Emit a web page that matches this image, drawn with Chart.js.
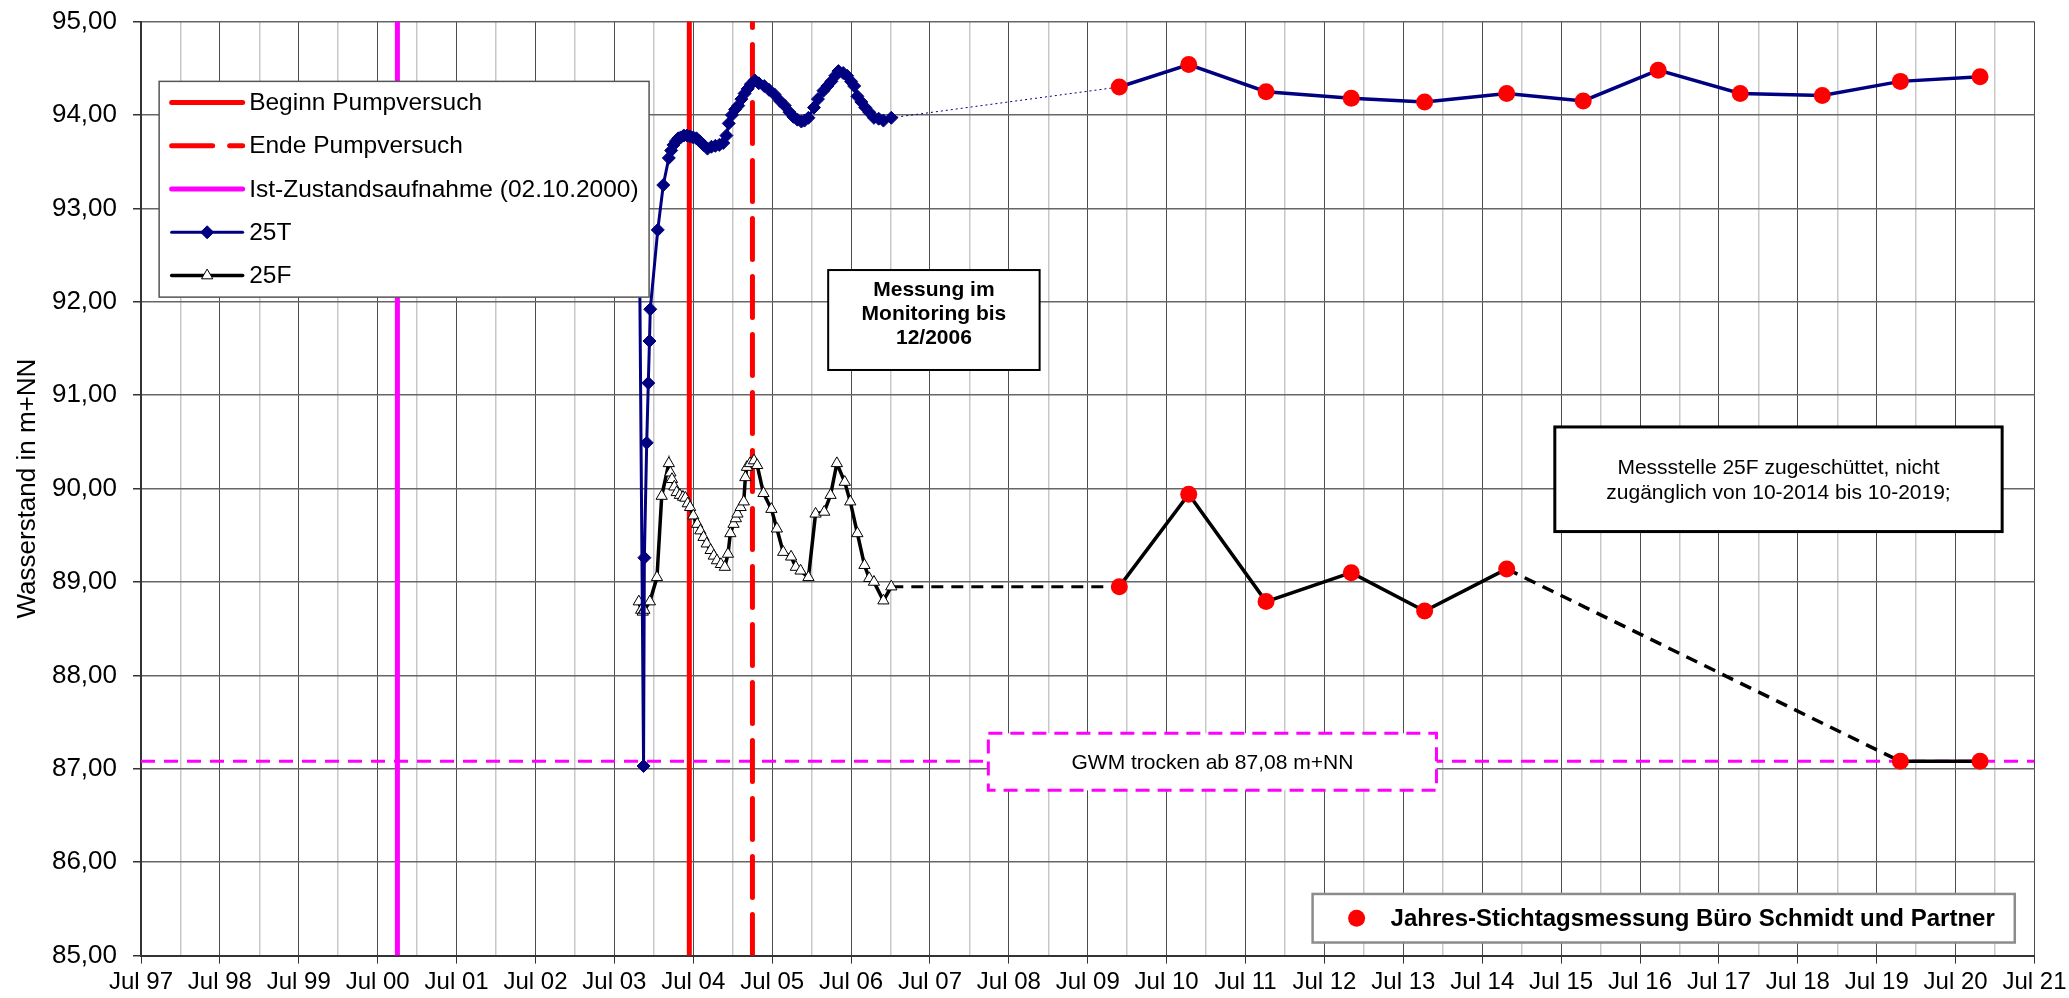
<!DOCTYPE html>
<html>
<head>
<meta charset="utf-8">
<script src="https://cdn.jsdelivr.net/npm/chart.js@4.4.1/dist/chart.umd.min.js"></script>
<style>
  html, body { margin: 0; padding: 0; background: #fff; }
</style>
</head>
<body>
<canvas id="grafico-wasserstand" width="2069" height="998"></canvas>
<script>
// Zeitachse in Dezimaljahren (Jul 97 = 1997.5)
const xTickLabels = ['Jul 97', 'Jul 98', 'Jul 99', 'Jul 00', 'Jul 01', 'Jul 02', 'Jul 03', 'Jul 04',
  'Jul 05', 'Jul 06', 'Jul 07', 'Jul 08', 'Jul 09', 'Jul 10', 'Jul 11', 'Jul 12', 'Jul 13',
  'Jul 14', 'Jul 15', 'Jul 16', 'Jul 17', 'Jul 18', 'Jul 19', 'Jul 20', 'Jul 21'];
const yMin = 85;
const yMax = 95;

const istZustand = 2000.75;        // 02.10.2000
const beginnPumpversuch = 2004.45;
const endePumpversuch = 2005.25;
const trockenNiveau = 87.08;

// Monitoring 25T
const datum25T = [2003.81, 2003.87, 2003.88, 2003.91, 2003.93, 2003.945, 2003.955, 2004.05, 2004.12, 2004.19,
  2004.22, 2004.25, 2004.28, 2004.31, 2004.34, 2004.38, 2004.42, 2004.46, 2004.50, 2004.54,
  2004.58, 2004.63, 2004.68, 2004.73, 2004.78, 2004.83, 2004.88, 2004.92, 2004.95, 2004.99,
  2005.03, 2005.07, 2005.11, 2005.15, 2005.19, 2005.23, 2005.28, 2005.33, 2005.40, 2005.46,
  2005.53, 2005.60, 2005.66, 2005.72, 2005.77, 2005.82, 2005.87, 2005.91, 2005.96, 2006.03,
  2006.08, 2006.15, 2006.20, 2006.25, 2006.30, 2006.34, 2006.40, 2006.45, 2006.50, 2006.54,
  2006.58, 2006.63, 2006.68, 2006.73, 2006.79, 2006.85, 2006.91, 2007.01];
const wert25T = [93.50, 87.03, 89.26, 90.49, 91.13, 91.58, 91.92, 92.77, 93.25, 93.54,
  93.62, 93.68, 93.72, 93.75, 93.76, 93.78, 93.78, 93.77, 93.76, 93.75,
  93.72, 93.68, 93.64, 93.66, 93.67, 93.68, 93.70, 93.78, 93.91, 94.00,
  94.06, 94.10, 94.17, 94.23, 94.28, 94.33, 94.37, 94.34, 94.31, 94.27,
  94.22, 94.15, 94.10, 94.03, 93.98, 93.95, 93.93, 93.94, 93.97, 94.08,
  94.17, 94.26, 94.31, 94.36, 94.42, 94.47, 94.45, 94.42, 94.36, 94.31,
  94.20, 94.14, 94.08, 94.03, 93.97, 93.96, 93.94, 93.97];

// Monitoring 25F
const datum25F = [2003.81, 2003.84, 2003.86, 2003.88, 2003.95, 2004.04, 2004.10, 2004.19, 2004.21, 2004.23,
  2004.26, 2004.29, 2004.33, 2004.37, 2004.40, 2004.43, 2004.46, 2004.50, 2004.55, 2004.59,
  2004.63, 2004.67, 2004.72, 2004.76, 2004.80, 2004.85, 2004.90, 2004.94, 2004.97, 2005.01,
  2005.04, 2005.06, 2005.10, 2005.14, 2005.16, 2005.18, 2005.22, 2005.27, 2005.31, 2005.39,
  2005.49, 2005.56, 2005.64, 2005.74, 2005.80, 2005.86, 2005.96, 2006.05, 2006.16, 2006.24,
  2006.32, 2006.42, 2006.49, 2006.58, 2006.67, 2006.73, 2006.79, 2006.91, 2007.01];
const wert25F = [88.79, 88.70, 88.68, 88.70, 88.79, 89.05, 89.92, 90.27, 90.17, 90.10,
  90.02, 89.96, 89.93, 89.91, 89.90, 89.84, 89.80, 89.71, 89.62, 89.55,
  89.48, 89.41, 89.34, 89.28, 89.23, 89.19, 89.16, 89.30, 89.52, 89.62,
  89.68, 89.73, 89.80, 89.86, 90.12, 90.23, 90.27, 90.30, 90.25, 89.95,
  89.78, 89.57, 89.32, 89.27, 89.16, 89.12, 89.05, 89.73, 89.75, 89.93,
  90.27, 90.07, 89.86, 89.52, 89.18, 89.04, 89.00, 88.80, 88.95];

// Jahres-Stichtagsmessungen
const stichtagDatum = [2009.90, 2010.78, 2011.76, 2012.84, 2013.77, 2014.81, 2015.78, 2016.73, 2017.77, 2018.81, 2019.80, 2020.81];
const stichtag25T = [94.30, 94.54, 94.25, 94.18, 94.14, 94.23, 94.15, 94.48, 94.23, 94.21, 94.36, 94.41];
const stichtag25F = [88.95, 89.94, 88.79, 89.10, 88.69, 89.14, null, null, null, null, 87.08, 87.08];

const FONT = '"Liberation Sans", Arial, sans-serif';
const NAVY = '#000080';
const ROT = '#ff0000';
const MAGENTA = '#ff00ff';

function punkte(xs, ys) {
  return xs.map((x, i) => ({ x: x, y: ys[i] }));
}
function senkrecht(x) {
  return [{ x: x, y: yMin }, { x: x, y: yMax }];
}
function istJul(v) {
  return Math.abs((v % 1) - 0.5) < 1e-6;
}

// Textfelder (in Achsenkoordinaten)
const textFelder = {
  legende: { x0: 1997.73, y0: 94.36, x1: 2003.94, y1: 92.05 },
  messung: { x0: 2006.21, y0: 92.34, x1: 2008.89, y1: 91.27 },
  messstelle: { x0: 2015.42, y0: 90.66, x1: 2021.09, y1: 89.54 },
  gwm: { x0: 2008.24, y0: 87.38, x1: 2013.92, y1: 86.77 },
  stichtag: { x0: 2012.35, y0: 85.66, x1: 2021.25, y1: 85.14 }
};

function feld(chart, b, fill, stroke, width, dash) {
  const xs = chart.scales.x, ys = chart.scales.y;
  const x0 = xs.getPixelForValue(b.x0), x1 = xs.getPixelForValue(b.x1);
  const y0 = ys.getPixelForValue(b.y0), y1 = ys.getPixelForValue(b.y1);
  const ctx = chart.ctx;
  ctx.save();
  ctx.fillStyle = fill;
  ctx.fillRect(x0, y0, x1 - x0, y1 - y0);
  ctx.strokeStyle = stroke;
  ctx.lineWidth = width;
  ctx.setLineDash(dash || []);
  ctx.strokeRect(x0, y0, x1 - x0, y1 - y0);
  ctx.restore();
  return { x0, y0, x1, y1 };
}

const overlayPlugin = {
  id: 'overlays',
  afterDatasetsDraw(chart) {
    const ctx = chart.ctx;
    ctx.save();
    ctx.fillStyle = '#000';
    ctx.textBaseline = 'middle';

    // Messung im Monitoring
    let r = feld(chart, textFelder.messung, '#fff', '#000', 2);
    ctx.font = 'bold 21px ' + FONT;
    ctx.textAlign = 'center';
    ['Messung im', 'Monitoring bis', '12/2006'].forEach((t, i) => {
      ctx.fillText(t, (r.x0 + r.x1) / 2, r.y0 + 20 + i * 24);
    });

    // Messstelle 25F
    r = feld(chart, textFelder.messstelle, '#fff', '#000', 3);
    ctx.font = '21px ' + FONT;
    ['Messstelle 25F zugeschüttet, nicht', 'zugänglich von 10-2014 bis 10-2019;'].forEach((t, i) => {
      ctx.fillText(t, (r.x0 + r.x1) / 2, r.y0 + 41 + i * 25);
    });

    // GWM trocken
    r = feld(chart, textFelder.gwm, '#fff', MAGENTA, 3, [14, 8]);
    ctx.fillText('GWM trocken ab 87,08 m+NN', (r.x0 + r.x1) / 2, (r.y0 + r.y1) / 2 + 1);

    // Legende oben links
    r = feld(chart, textFelder.legende, '#fff', '#555', 1.5);
    ctx.textAlign = 'left';
    ctx.font = '24.5px ' + FONT;
    const eintraege = chart.data.datasets.filter(ds => ds.legende);
    eintraege.forEach((ds, i) => {
      const y = r.y0 + 21 + i * 43.3;
      const xa = r.x0 + 12.5, xb = r.x0 + 83.5;
      ctx.save();
      ctx.strokeStyle = ds.borderColor;
      ctx.lineWidth = ds.borderWidth;
      ctx.lineCap = 'round';
      ctx.setLineDash(ds.borderDash || []);
      ctx.beginPath();
      ctx.moveTo(xa, y);
      ctx.lineTo(xb, y);
      ctx.stroke();
      ctx.restore();
      if (ds.pointRadius > 0) {
        ctx.save();
        ctx.fillStyle = ds.pointBackgroundColor;
        ctx.strokeStyle = ds.pointBorderColor;
        ctx.lineWidth = ds.pointBorderWidth;
        Chart.helpers.drawPoint(ctx, { pointStyle: ds.pointStyle, radius: ds.pointRadius, rotation: 0, borderWidth: ds.pointBorderWidth }, (xa + xb) / 2, y);
        ctx.restore();
      }
      ctx.fillText(ds.label, r.x0 + 90, y + 1);
    });

    // Legende Stichtagsmessung
    r = feld(chart, textFelder.stichtag, '#fff', '#8c8c8c', 2.5);
    const st = chart.data.datasets.find(ds => ds.id === 'stichtag25T');
    const cy = (r.y0 + r.y1) / 2;
    ctx.fillStyle = st.pointBackgroundColor;
    ctx.beginPath();
    ctx.arc(r.x0 + 44, cy, st.pointRadius, 0, Math.PI * 2);
    ctx.fill();
    ctx.fillStyle = '#000';
    ctx.font = 'bold 24px ' + FONT;
    ctx.fillText('Jahres-Stichtagsmessung Büro Schmidt und Partner', r.x0 + 78, cy + 1);
    ctx.restore();
  }
};

const datasets = [
  {
    label: 'Beginn Pumpversuch', legende: true, order: 6,
    data: senkrecht(beginnPumpversuch),
    borderColor: ROT, borderWidth: 5, pointRadius: 0
  },
  {
    label: 'Ende Pumpversuch', legende: true, order: 6,
    data: senkrecht(endePumpversuch),
    borderColor: ROT, borderWidth: 5, borderDash: [41, 17], borderCapStyle: 'round', pointRadius: 0
  },
  {
    label: 'Ist-Zustandsaufnahme (02.10.2000)', legende: true, order: 6,
    data: senkrecht(istZustand),
    borderColor: MAGENTA, borderWidth: 5, pointRadius: 0
  },
  {
    label: '25T', legende: true, order: 0,
    data: punkte(datum25T, wert25T),
    borderColor: NAVY, borderWidth: 3,
    pointStyle: 'rectRot', pointRadius: 6.5, pointBackgroundColor: NAVY, pointBorderColor: NAVY, pointBorderWidth: 1
  },
  {
    label: '25F', legende: true, order: 1,
    data: punkte(datum25F, wert25F),
    borderColor: '#000', borderWidth: 3.5,
    pointStyle: 'triangle', pointRadius: 6.5, pointBackgroundColor: '#fff', pointBorderColor: '#000', pointBorderWidth: 1
  },
  {
    label: 'GWM trocken', order: 7,
    data: [{ x: 1997.5, y: trockenNiveau }, { x: 2021.5, y: trockenNiveau }],
    borderColor: MAGENTA, borderWidth: 3, borderDash: [14, 9], pointRadius: 0
  },
  {
    label: '25T Verbindung', order: 3,
    data: [{ x: datum25T[datum25T.length - 1], y: wert25T[wert25T.length - 1] }, { x: stichtagDatum[0], y: stichtag25T[0] }],
    borderColor: NAVY, borderWidth: 1, borderDash: [2, 3], pointRadius: 0
  },
  {
    label: '25F Verbindung', order: 3,
    data: [{ x: datum25F[datum25F.length - 1], y: wert25F[wert25F.length - 1] }, { x: stichtagDatum[0], y: stichtag25F[0] }],
    borderColor: '#000', borderWidth: 3, borderDash: [12, 8], pointRadius: 0
  },
  {
    id: 'stichtag25T', label: '25T Stichtag', order: 0,
    data: punkte(stichtagDatum, stichtag25T),
    borderColor: NAVY, borderWidth: 3.5,
    pointStyle: 'circle', pointRadius: 8.5, pointBackgroundColor: ROT, pointBorderColor: ROT, pointBorderWidth: 0
  },
  {
    label: '25F Stichtag', order: 1, spanGaps: true,
    data: punkte(stichtagDatum, stichtag25F),
    borderColor: '#000', borderWidth: 3.5,
    segment: { borderDash: c => (stichtag25F[c.p1DataIndex - 1] === null ? [12, 8] : undefined) },
    pointStyle: 'circle', pointRadius: 8.5, pointBackgroundColor: ROT, pointBorderColor: ROT, pointBorderWidth: 0
  }
];

const ctx = document.getElementById('grafico-wasserstand').getContext('2d');
new Chart(ctx, {
  type: 'line',
  data: { datasets: datasets },
  options: {
    responsive: false,
    animation: false,
    devicePixelRatio: 1,
    layout: { padding: { top: 21.6, right: 34.5, left: 0, bottom: 0 } },
    plugins: { legend: { display: false }, tooltip: { enabled: false } },
    elements: { line: { tension: 0 } },
    scales: {
      x: {
        type: 'linear', min: 1997.5, max: 2021.5,
        afterFit: s => { s.height = 42.4; s.paddingLeft = 0; s.paddingRight = 0; },
        ticks: {
          stepSize: 0.5, autoSkip: false, maxRotation: 0, minRotation: 0, padding: 4,
          color: '#000', font: { family: FONT, size: 24 },
          callback: v => (istJul(v) ? xTickLabels[Math.round(v - 1997.5)] : '')
        },
        grid: {
          color: c => (istJul(c.tick.value) ? '#4d4d4d' : '#c8c8c8'),
          lineWidth: c => (istJul(c.tick.value) ? 1 : 1.5),
          tickLength: 8,
          tickColor: c => (istJul(c.tick.value) ? '#333' : 'rgba(0,0,0,0)')
        },
        border: { color: '#333', width: 2 }
      },
      y: {
        min: yMin, max: yMax,
        afterFit: s => { s.width = 141; s.paddingTop = 0; s.paddingBottom = 0; },
        ticks: {
          stepSize: 1, padding: 16, color: '#000', font: { family: FONT, size: 26 },
          callback: v => v.toFixed(2).replace('.', ',')
        },
        grid: { color: '#666', lineWidth: 1.5, tickLength: 8, tickColor: '#333' },
        border: { color: '#333', width: 2 },
        title: {
          display: true, text: 'Wasserstand in m+NN', color: '#000',
          font: { family: FONT, size: 26 }, padding: { top: 12, bottom: 0 }
        }
      }
    }
  },
  plugins: [overlayPlugin]
});
</script>
</body>
</html>
